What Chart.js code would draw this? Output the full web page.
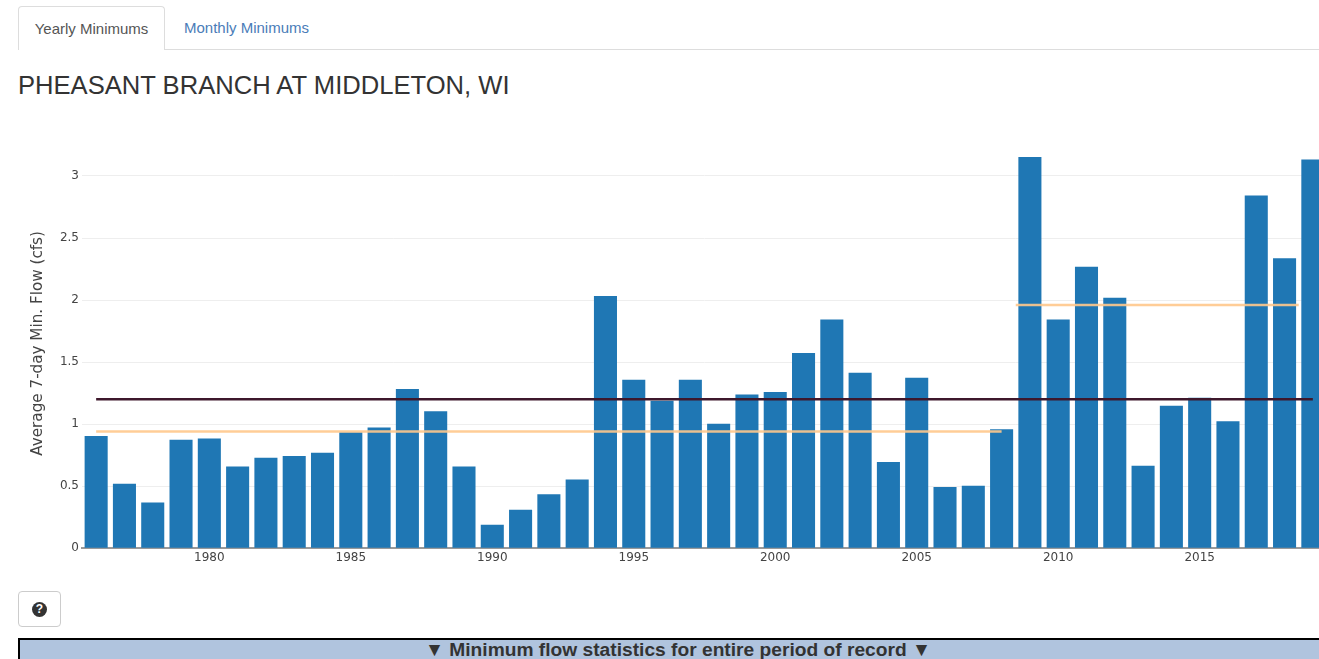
<!DOCTYPE html>
<html>
<head>
<meta charset="utf-8">
<title>PHEASANT BRANCH AT MIDDLETON, WI</title>
<script src="https://cdn.jsdelivr.net/npm/chart.js@4"></script>
<style>
    html, body { margin: 0; padding: 0; background: #fff; overflow: hidden; width: 1319px; height: 659px; }
    body { position: relative; font-family: "Liberation Sans", Arial, sans-serif; font-size: 15px; color: #333; }
    .tabs { position: absolute; left: 18px; top: 0; width: 1301px; height: 49px; border-bottom: 1px solid #ddd; }
    .tab { position: absolute; top: 6px; height: 43px; line-height: 44px; box-sizing: border-box; }
    .tab.active { left: 0; width: 147px; height: 44px; background: #fff; border: 1px solid #ddd; border-bottom: 0; border-radius: 4px 4px 0 0; color: #555; text-align: center; }
    .tab.other { left: 166px; color: #4a7cb8; }
    h3 { position: absolute; left: 18px; top: 71px; margin: 0; font-size: 25.6px; font-weight: 400; line-height: 29px; color: #333; }
    #wrap { position: absolute; left: 0; top: 125px; }
    .help { position: absolute; left: 18px; top: 591px; width: 43px; height: 36px; box-sizing: border-box; border: 1px solid #ccc; border-radius: 4px; background: #fff; }
    .help span { position: absolute; left: 13px; top: 10px; width: 15px; height: 15px; border-radius: 50%; background: #333; color: #fff; font-size: 12px; font-weight: 700; line-height: 15px; text-align: center; }
    .stats { position: absolute; left: 18px; top: 638px; width: 1320px; height: 40px; box-sizing: border-box; border: 2px solid #000; background: #b0c4de; font-size: 19.2px; font-weight: 700; line-height: 20px; text-align: center; color: #333; }
</style>
</head>
<body>
<div class="tabs">
    <div class="tab active">Yearly Minimums</div>
    <div class="tab other">Monthly Minimums</div>
</div>
<h3>PHEASANT BRANCH AT MIDDLETON, WI</h3>
<div id="wrap"><canvas id="min-flow-chart" width="1340" height="460"></canvas></div>
<div class="help"><span>?</span></div>
<div class="stats">▼ Minimum flow statistics for entire period of record ▼</div>
<script>
// yearly 7-day minimum flow
const years = [1976, 1977, 1978, 1979, 1980, 1981, 1982, 1983, 1984, 1985, 1986, 1987, 1988, 1989, 1990,
    1991, 1992, 1993, 1994, 1995, 1996, 1997, 1998, 1999, 2000, 2001, 2002, 2003, 2004, 2005, 2006, 2007,
    2008, 2009, 2010, 2011, 2012, 2013, 2014, 2015, 2016, 2017, 2018, 2019];
const minFlow = [0.90, 0.515, 0.365, 0.87, 0.88, 0.655, 0.725, 0.74, 0.765, 0.93, 0.97, 1.28, 1.10, 0.655, 0.185,
    0.305, 0.43, 0.55, 2.03, 1.355, 1.185, 1.355, 1.0, 1.235, 1.255, 1.57, 1.84, 1.41, 0.69, 1.37, 0.49, 0.50,
    0.955, 3.15, 1.84, 2.265, 2.015, 0.66, 1.145, 1.21, 1.02, 2.84, 2.335, 3.13];

// period means
const meanAllX = [1976, 2019];
const meanAllY = [1.2, 1.2];
const meanEarlyX = [1976, 2008];
const meanEarlyY = [0.94, 0.94];
const meanLateX = [2008.5, 2018.5];
const meanLateY = [1.96, 1.96];

const xTicks = [1980, 1985, 1990, 1995, 2000, 2005, 2010, 2015];
const axisFont = { family: "'DejaVu Sans', Verdana, sans-serif", size: 12 };

function toPoints(xs, ys) {
    return xs.map((x, i) => ({ x: x, y: ys[i] }));
}

function lineSet(label, xs, ys, color) {
    return {
        type: "line",
        label: label,
        data: toPoints(xs, ys),
        borderColor: color,
        borderWidth: 2.5,
        pointRadius: 0,
        order: 0
    };
}

new Chart(document.getElementById("min-flow-chart"), {
    type: "bar",
    data: {
        datasets: [
            {
                label: "7-day min",
                data: toPoints(years, minFlow),
                backgroundColor: "#1f77b4",
                barThickness: 22.4,
                order: 2
            },
            lineSet("Early mean", meanEarlyX, meanEarlyY, "rgba(255, 200, 140, 0.9)"),
            lineSet("Late mean", meanLateX, meanLateY, "rgba(255, 200, 140, 0.9)"),
            lineSet("Mean", meanAllX, meanAllY, "rgb(62, 24, 44)")
        ]
    },
    options: {
        responsive: false,
        animation: false,
        layout: { padding: { left: 29, top: 13.8, right: 13, bottom: 0 } },
        plugins: { legend: { display: false }, tooltip: { enabled: true } },
        scales: {
            x: {
                type: "linear",
                min: 1975.5,
                max: 2019.5,
                offset: false,
                grid: { display: false, drawTicks: false },
                border: { color: "#999", width: 2 },
                afterBuildTicks: function (scale) {
                    scale.ticks = xTicks.map(v => ({ value: v }));
                },
                afterFit: function (scale) { scale.height = 37; },
                ticks: {
                    color: "#444",
                    font: axisFont,
                    maxRotation: 0,
                    autoSkip: false,
                    padding: 3,
                    callback: v => String(v)
                }
            },
            y: {
                min: 0,
                max: 3.3,
                grid: { color: "#eee", drawTicks: false },
                border: { display: false },
                afterFit: function (scale) { scale.width = 53; },
                title: {
                    display: true,
                    text: "Average 7-day Min. Flow (cfs)",
                    color: "#444",
                    font: { family: "'DejaVu Sans', Verdana, sans-serif", size: 15.2 },
                    padding: { top: 0, bottom: 0 }
                },
                ticks: {
                    color: "#444",
                    font: axisFont,
                    stepSize: 0.5,
                    includeBounds: false,
                    padding: 3,
                    callback: v => String(v)
                }
            }
        }
    }
});
</script>
</body>
</html>
